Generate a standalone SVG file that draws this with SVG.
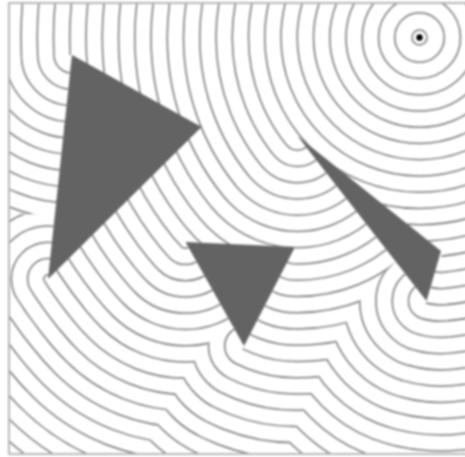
<svg xmlns="http://www.w3.org/2000/svg" width="465" height="457" viewBox="0 0 465 457">
<style>
circle{fill:none;stroke:#777;stroke-width:1.5}
.t{fill:#646464;stroke:none}
.f{fill:none;stroke:#b0b0b0;stroke-width:1.8}
</style>
<defs>
<filter id="soft" filterUnits="userSpaceOnUse" x="0" y="0" width="465" height="457"><feGaussianBlur stdDeviation="0.9"/></filter>
<clipPath id="cS"><polygon points="9,3 470,3 470,454 461.4,454 441,251 297.5,136 9,368.9 9,304.3 48,279 72,55 9,58"/></clipPath>
<clipPath id="cA1"><polygon points="72,55 9,58 9,214 54.9,214.3"/></clipPath>
<clipPath id="cA3"><polygon points="48,279 54.9,214.3 9,214 9,304.3"/></clipPath>
<clipPath id="cC1"><polygon points="297.5,136 9,368.9 9,409 185.5,242 295,247 290.7,441 291,440 303.8,410 317,380 331.6,350 348,320 360.7,300 376.4,280 395.9,261.8"/></clipPath>
<clipPath id="cC2"><polygon points="441,251 461.4,454 382.1,454 426.5,301"/></clipPath>
<clipPath id="cC3"><polygon points="426.5,301 382.1,454 285.4,454 290.7,441 291,440 303.8,410 317,380 331.6,350 348,320 360.7,300 376.4,280 395.9,261.8"/></clipPath>
<clipPath id="cB1"><polygon points="185.5,242 9,409 9,454 142.8,454 160.3,420 177.3,390 195.8,360 211.4,340 231.5,323.7"/></clipPath>
<clipPath id="cB2"><polygon points="295,247 290.7,441 285.4,454 188.4,454 244,346"/></clipPath>
<clipPath id="cB3"><polygon points="244,346 188.4,454 142.8,454 160.3,420 177.3,390 195.8,360 211.4,340 231.5,323.7"/></clipPath>
</defs>
<rect width="465" height="457" fill="#fff"/>
<g filter="url(#soft)">
<g id="contours-source" clip-path="url(#cS)">
<circle cx="419.5" cy="37.5" r="7.5"/><circle cx="419.5" cy="37.5" r="24.75"/><circle cx="419.5" cy="37.5" r="41"/><circle cx="419.5" cy="37.5" r="57.25"/><circle cx="419.5" cy="37.5" r="73.5"/><circle cx="419.5" cy="37.5" r="89.75"/><circle cx="419.5" cy="37.5" r="106"/><circle cx="419.5" cy="37.5" r="122.25"/><circle cx="419.5" cy="37.5" r="138.5"/><circle cx="419.5" cy="37.5" r="154.75"/><circle cx="419.5" cy="37.5" r="171"/><circle cx="419.5" cy="37.5" r="187.25"/><circle cx="419.5" cy="37.5" r="203.5"/><circle cx="419.5" cy="37.5" r="219.75"/><circle cx="419.5" cy="37.5" r="236"/><circle cx="419.5" cy="37.5" r="252.25"/><circle cx="419.5" cy="37.5" r="268.5"/><circle cx="419.5" cy="37.5" r="284.75"/><circle cx="419.5" cy="37.5" r="301"/><circle cx="419.5" cy="37.5" r="317.25"/><circle cx="419.5" cy="37.5" r="333.5"/><circle cx="419.5" cy="37.5" r="349.75"/><circle cx="419.5" cy="37.5" r="366"/><circle cx="419.5" cy="37.5" r="382.25"/><circle cx="419.5" cy="37.5" r="398.5"/><circle cx="419.5" cy="37.5" r="414.75"/><circle cx="419.5" cy="37.5" r="431"/><circle cx="419.5" cy="37.5" r="447.25"/><circle cx="419.5" cy="37.5" r="463.5"/><circle cx="419.5" cy="37.5" r="479.75"/><circle cx="419.5" cy="37.5" r="496"/><circle cx="419.5" cy="37.5" r="512.25"/><circle cx="419.5" cy="37.5" r="528.5"/>
</g>
<g id="contours-a1" clip-path="url(#cA1)">
<circle cx="72" cy="55" r="18.1"/><circle cx="72" cy="55" r="34.35"/><circle cx="72" cy="55" r="50.6"/><circle cx="72" cy="55" r="66.85"/><circle cx="72" cy="55" r="83.1"/><circle cx="72" cy="55" r="99.35"/><circle cx="72" cy="55" r="115.6"/><circle cx="72" cy="55" r="131.85"/><circle cx="72" cy="55" r="148.1"/><circle cx="72" cy="55" r="164.35"/>
</g>
<g id="contours-a3" clip-path="url(#cA3)">
<circle cx="48" cy="279" r="4.15"/><circle cx="48" cy="279" r="20.4"/><circle cx="48" cy="279" r="36.65"/><circle cx="48" cy="279" r="52.9"/><circle cx="48" cy="279" r="69.15"/>
</g>
<g id="contours-c1" clip-path="url(#cC1)">
<circle cx="297.5" cy="136" r="14.2"/><circle cx="297.5" cy="136" r="30.45"/><circle cx="297.5" cy="136" r="46.7"/><circle cx="297.5" cy="136" r="62.95"/><circle cx="297.5" cy="136" r="79.2"/><circle cx="297.5" cy="136" r="95.45"/><circle cx="297.5" cy="136" r="111.7"/><circle cx="297.5" cy="136" r="127.95"/><circle cx="297.5" cy="136" r="144.2"/><circle cx="297.5" cy="136" r="160.45"/><circle cx="297.5" cy="136" r="176.7"/><circle cx="297.5" cy="136" r="192.95"/><circle cx="297.5" cy="136" r="209.2"/><circle cx="297.5" cy="136" r="225.45"/><circle cx="297.5" cy="136" r="241.7"/><circle cx="297.5" cy="136" r="257.95"/><circle cx="297.5" cy="136" r="274.2"/><circle cx="297.5" cy="136" r="290.45"/><circle cx="297.5" cy="136" r="306.7"/><circle cx="297.5" cy="136" r="322.95"/><circle cx="297.5" cy="136" r="339.2"/><circle cx="297.5" cy="136" r="355.45"/><circle cx="297.5" cy="136" r="371.7"/><circle cx="297.5" cy="136" r="387.95"/>
</g>
<g id="contours-c2" clip-path="url(#cC2)">
<circle cx="441" cy="251" r="21.4"/><circle cx="441" cy="251" r="37.65"/><circle cx="441" cy="251" r="53.9"/><circle cx="441" cy="251" r="70.15"/><circle cx="441" cy="251" r="86.4"/><circle cx="441" cy="251" r="102.65"/><circle cx="441" cy="251" r="118.9"/><circle cx="441" cy="251" r="135.15"/><circle cx="441" cy="251" r="151.4"/><circle cx="441" cy="251" r="167.65"/><circle cx="441" cy="251" r="183.9"/><circle cx="441" cy="251" r="200.15"/>
</g>
<g id="contours-c3" clip-path="url(#cC3)">
<circle cx="426.5" cy="301" r="18.05"/><circle cx="426.5" cy="301" r="34.3"/><circle cx="426.5" cy="301" r="50.55"/><circle cx="426.5" cy="301" r="66.8"/><circle cx="426.5" cy="301" r="83.05"/><circle cx="426.5" cy="301" r="99.3"/><circle cx="426.5" cy="301" r="115.55"/><circle cx="426.5" cy="301" r="131.8"/><circle cx="426.5" cy="301" r="148.05"/><circle cx="426.5" cy="301" r="164.3"/><circle cx="426.5" cy="301" r="180.55"/><circle cx="426.5" cy="301" r="196.8"/>
</g>
<g id="contours-b1" clip-path="url(#cB1)">
<circle cx="185.5" cy="242" r="6.25"/><circle cx="185.5" cy="242" r="22.5"/><circle cx="185.5" cy="242" r="38.75"/><circle cx="185.5" cy="242" r="55"/><circle cx="185.5" cy="242" r="71.25"/><circle cx="185.5" cy="242" r="87.5"/><circle cx="185.5" cy="242" r="103.75"/><circle cx="185.5" cy="242" r="120"/><circle cx="185.5" cy="242" r="136.25"/><circle cx="185.5" cy="242" r="152.5"/><circle cx="185.5" cy="242" r="168.75"/><circle cx="185.5" cy="242" r="185"/><circle cx="185.5" cy="242" r="201.25"/><circle cx="185.5" cy="242" r="217.5"/><circle cx="185.5" cy="242" r="233.75"/><circle cx="185.5" cy="242" r="250"/><circle cx="185.5" cy="242" r="266.25"/>
</g>
<g id="contours-b2" clip-path="url(#cB2)">
<circle cx="295" cy="247" r="16.95"/><circle cx="295" cy="247" r="33.2"/><circle cx="295" cy="247" r="49.45"/><circle cx="295" cy="247" r="65.7"/><circle cx="295" cy="247" r="81.95"/><circle cx="295" cy="247" r="98.2"/><circle cx="295" cy="247" r="114.45"/><circle cx="295" cy="247" r="130.7"/><circle cx="295" cy="247" r="146.95"/><circle cx="295" cy="247" r="163.2"/><circle cx="295" cy="247" r="179.45"/><circle cx="295" cy="247" r="195.7"/><circle cx="295" cy="247" r="211.95"/><circle cx="295" cy="247" r="228.2"/>
</g>
<g id="contours-b3" clip-path="url(#cB3)">
<circle cx="244" cy="346" r="19.3"/><circle cx="244" cy="346" r="35.55"/><circle cx="244" cy="346" r="51.8"/><circle cx="244" cy="346" r="68.05"/><circle cx="244" cy="346" r="84.3"/><circle cx="244" cy="346" r="100.55"/><circle cx="244" cy="346" r="116.8"/><circle cx="244" cy="346" r="133.05"/><circle cx="244" cy="346" r="149.3"/>
</g>
<rect id="frame" class="f" x="9" y="3" width="470" height="451"/>
<polygon id="triangle-a" class="t" points="72,55 201.5,127 48,279"/>
<polygon id="triangle-b" class="t" points="185.5,242 295,247 244,346"/>
<polygon id="triangle-c" class="t" points="297.5,136 441,251 426.5,301"/>
<circle id="source" cx="419.5" cy="37.5" r="3.2" style="fill:#000;stroke:none"/>
</g>
</svg>
